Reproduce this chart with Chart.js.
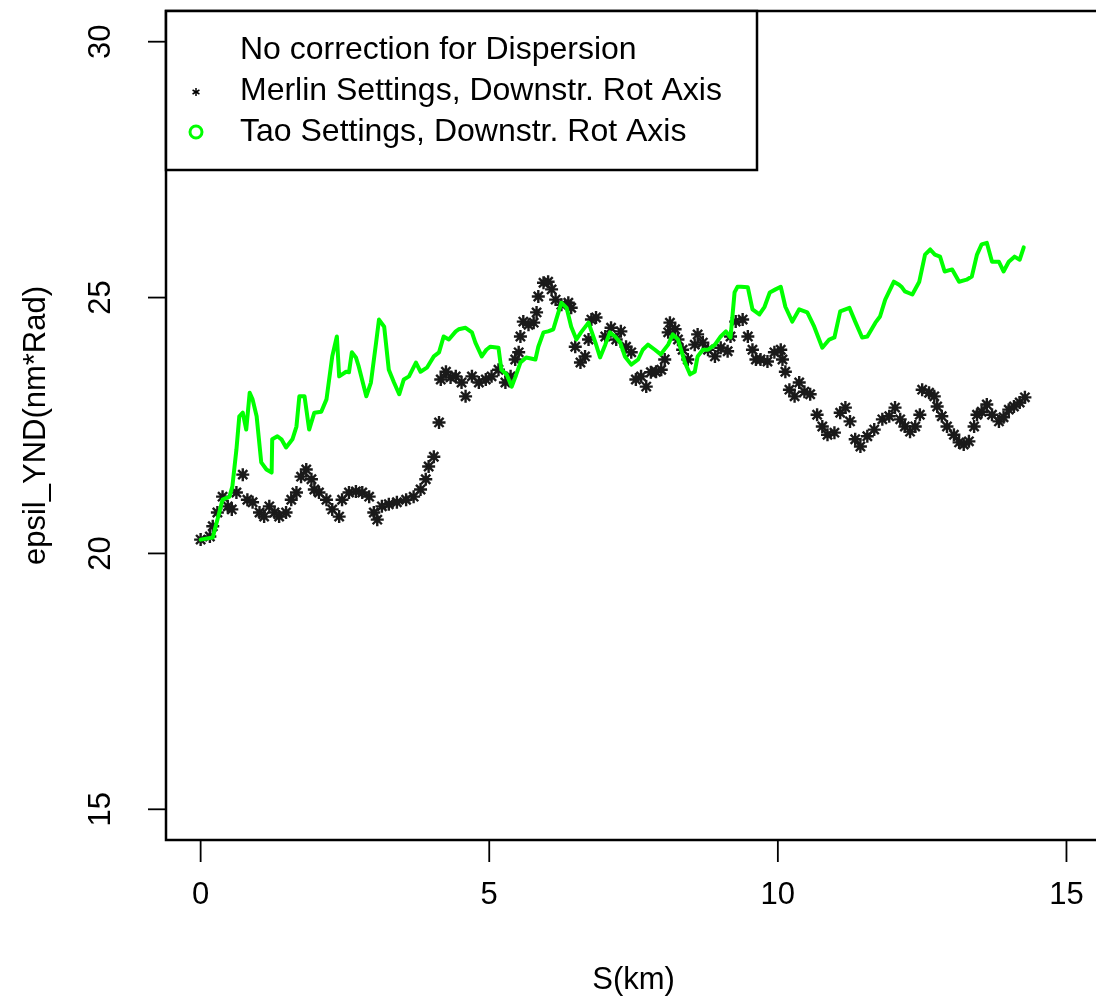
<!DOCTYPE html>
<html lang="en">
<head>
    <meta charset="UTF-8">
    <title>epsil_YND vs S</title>
    <script src="https://cdn.jsdelivr.net/npm/chart.js"></script>
    <style>
        body {
            margin: 0;
            overflow: hidden;
            background: #fff;
        }
        #wrap {
            width: 1110px;
            height: 997px;
        }
    </style>
</head>
<body>
    <div id="wrap"><canvas id="plot" width="1110" height="997"></canvas></div>

    <script>
        // Tao settings (green line)
        const taoS = [0.0, 0.21, 0.38, 0.50, 0.55, 0.62, 0.67, 0.73, 0.79, 0.85, 0.90, 0.97, 1.05, 1.14, 1.23, 1.24, 1.33, 1.40, 1.48, 1.59,
            1.66, 1.71, 1.80, 1.88, 1.97, 2.09, 2.18, 2.28, 2.36, 2.40, 2.52, 2.57, 2.62, 2.69, 2.74, 2.87, 2.95, 3.04, 3.09, 3.18,
            3.26, 3.35, 3.44, 3.52, 3.61, 3.73, 3.81, 3.92, 4.04, 4.13, 4.21, 4.30, 4.42, 4.47, 4.59, 4.70, 4.76, 4.87, 4.95, 5.02,
            5.16, 5.21, 5.30, 5.39, 5.45, 5.54, 5.64, 5.80, 5.85, 5.94, 6.02, 6.11, 6.16, 6.25, 6.34, 6.42, 6.51, 6.59, 6.72, 6.84,
            6.92, 7.01, 7.09, 7.18, 7.27, 7.35, 7.46, 7.58, 7.66, 7.75, 7.87, 7.97, 8.10, 8.18, 8.27, 8.39, 8.48, 8.56, 8.61, 8.70,
            8.79, 8.91, 9.01, 9.10, 9.18, 9.25, 9.30, 9.36, 9.48, 9.56, 9.68, 9.77, 9.86, 9.96, 10.05, 10.13, 10.25, 10.37, 10.51, 10.63,
            10.77, 10.89, 10.98, 11.08, 11.24, 11.34, 11.46, 11.55, 11.69, 11.77, 11.86, 12.01, 12.10, 12.15, 12.20, 12.33, 12.45, 12.55, 12.64, 12.72,
            12.81, 12.89, 13.02, 13.14, 13.27, 13.36, 13.45, 13.53, 13.62, 13.71, 13.83, 13.91, 14.00, 14.10, 14.19, 14.26];
        const taoEps = [20.27, 20.31, 21.05, 21.11, 21.31, 22.03, 22.68, 22.75, 22.42, 23.14, 23.01, 22.68, 21.78, 21.64, 21.58, 22.23, 22.29, 22.23, 22.07, 22.23,
            22.48, 23.07, 23.07, 22.42, 22.75, 22.77, 23.01, 23.85, 24.24, 23.46, 23.55, 23.54, 23.93, 23.83, 23.65, 23.07, 23.34, 24.12, 24.57, 24.43,
            23.59, 23.34, 23.11, 23.40, 23.46, 23.73, 23.55, 23.63, 23.85, 23.93, 24.24, 24.18, 24.34, 24.38, 24.41, 24.32, 24.12, 23.85, 23.98, 24.04,
            24.02, 23.59, 23.50, 23.26, 23.44, 23.73, 23.83, 23.79, 24.04, 24.32, 24.34, 24.38, 24.57, 24.90, 24.80, 24.43, 24.18, 24.32, 24.51, 24.12,
            23.83, 24.08, 24.32, 24.24, 24.12, 23.85, 23.69, 23.79, 23.98, 24.08, 23.98, 23.89, 24.08, 24.28, 24.18, 23.73, 23.50, 23.55, 23.85, 23.98,
            23.98, 24.08, 24.24, 24.34, 24.22, 25.10, 25.21, 25.21, 25.20, 24.77, 24.67, 24.82, 25.10, 25.16, 25.21, 24.82, 24.53, 24.77, 24.71, 24.43,
            24.02, 24.18, 24.22, 24.73, 24.80, 24.53, 24.22, 24.24, 24.51, 24.63, 24.96, 25.31, 25.25, 25.20, 25.12, 25.06, 25.31, 25.84, 25.94, 25.84,
            25.80, 25.51, 25.55, 25.31, 25.35, 25.41, 25.84, 26.04, 26.07, 25.70, 25.70, 25.51, 25.70, 25.80, 25.74, 25.98];

        // Merlin settings (black stars)
        const merlinS = [0.0, 0.16, 0.21, 0.29, 0.38, 0.47, 0.54, 0.62, 0.73, 0.81, 0.90, 1.02, 1.10, 1.19, 1.28, 1.36, 1.48, 1.57, 1.66, 1.74,
            1.83, 1.92, 1.97, 2.05, 2.18, 2.28, 2.40, 2.45, 2.57, 2.69, 2.80, 2.92, 3.00, 3.06, 3.14, 3.26, 3.40, 3.56, 3.69, 3.81,
            3.90, 3.95, 4.04, 4.13, 4.16, 4.25, 4.33, 4.42, 4.52, 4.59, 4.70, 4.82, 4.94, 5.04, 5.16, 5.28, 5.37, 5.45, 5.51, 5.54,
            5.59, 5.68, 5.77, 5.82, 5.85, 5.94, 6.02, 6.08, 6.15, 6.25, 6.37, 6.42, 6.49, 6.58, 6.66, 6.72, 6.77, 6.85, 7.01, 7.11,
            7.20, 7.28, 7.37, 7.46, 7.54, 7.63, 7.72, 7.80, 7.89, 7.98, 8.04, 8.10, 8.13, 8.22, 8.27, 8.35, 8.44, 8.56, 8.61, 8.70,
            8.79, 8.91, 9.01, 9.13, 9.18, 9.27, 9.39, 9.48, 9.56, 9.62, 9.70, 9.82, 9.94, 10.05, 10.08, 10.13, 10.20, 10.29, 10.37, 10.46,
            10.56, 10.68, 10.77, 10.86, 10.98, 11.08, 11.17, 11.25, 11.34, 11.43, 11.55, 11.67, 11.81, 11.93, 12.03, 12.12, 12.20, 12.29, 12.38, 12.46,
            12.50, 12.62, 12.71, 12.76, 12.84, 12.93, 13.05, 13.14, 13.22, 13.31, 13.40, 13.45, 13.53, 13.62, 13.71, 13.83, 13.91, 14.00, 14.09, 14.19, 14.28];
        const merlinEps = [20.27, 20.33, 20.53, 20.80, 21.11, 20.92, 20.86, 21.19, 21.54, 21.05, 21.00, 20.80, 20.72, 20.92, 20.80, 20.72, 20.80, 21.05, 21.19, 21.50,
            21.64, 21.45, 21.25, 21.19, 21.05, 20.86, 20.72, 21.05, 21.19, 21.21, 21.19, 21.11, 20.80, 20.66, 20.92, 20.96, 21.00, 21.05, 21.11, 21.25,
            21.45, 21.70, 21.89, 22.56, 23.40, 23.55, 23.44, 23.46, 23.34, 23.07, 23.46, 23.34, 23.40, 23.46, 23.59, 23.34, 23.46, 23.79, 23.93, 24.24,
            24.53, 24.47, 24.51, 24.71, 25.02, 25.29, 25.31, 25.16, 24.96, 24.86, 24.90, 24.80, 24.04, 23.73, 23.85, 24.18, 24.57, 24.61, 24.24, 24.41,
            24.18, 24.34, 24.04, 23.93, 23.40, 23.46, 23.26, 23.54, 23.55, 23.59, 23.79, 24.32, 24.51, 24.38, 24.18, 23.98, 23.79, 24.08, 24.28, 24.12,
            23.98, 23.85, 24.02, 23.95, 24.24, 24.53, 24.57, 24.24, 23.98, 23.79, 23.79, 23.75, 23.93, 23.98, 23.79, 23.55, 23.20, 23.07, 23.34, 23.16,
            23.11, 22.71, 22.48, 22.32, 22.36, 22.75, 22.85, 22.58, 22.23, 22.09, 22.29, 22.42, 22.62, 22.68, 22.85, 22.62, 22.48, 22.38, 22.48, 22.71,
            23.20, 23.14, 23.07, 22.87, 22.68, 22.48, 22.32, 22.17, 22.13, 22.19, 22.48, 22.71, 22.77, 22.91, 22.71, 22.58, 22.66, 22.81, 22.87, 22.95, 23.05];

        const xTicks = [0, 5, 10, 15];
        const yTicks = [15, 20, 25, 30];
        const xTitle = 'S(km)';
        const yTitle = 'epsil_YND(nm*Rad)';
        const legendTitle = 'No correction for Dispersion';
        const merlinLabel = 'Merlin Settings, Downstr. Rot Axis';
        const taoLabel = 'Tao Settings, Downstr. Rot Axis';

        const GREEN = '#00ff00';
        const FONT = '31px "Liberation Sans", Arial, sans-serif';
        const LEGEND_FONT = '32px "Liberation Sans", Arial, sans-serif';

        function toPoints(xs, ys) {
            return xs.map((x, i) => ({ x: x, y: ys[i] }));
        }

        // R-style frame: box, outside ticks, rotated y labels, legend
        const rFrame = {
            id: 'rFrame',
            afterDraw(chart) {
                const ctx = chart.ctx;
                const a = chart.chartArea;
                const xs = chart.scales.x;
                const ys = chart.scales.y;

                ctx.save();
                ctx.strokeStyle = '#000';
                ctx.fillStyle = '#000';

                // plot box
                ctx.lineWidth = 2.5;
                ctx.strokeRect(a.left, a.top, a.right - a.left, a.bottom - a.top);

                // x ticks + labels
                ctx.lineWidth = 1.8;
                ctx.font = FONT;
                ctx.textAlign = 'center';
                ctx.textBaseline = 'middle';
                xTicks.forEach(v => {
                    const px = xs.getPixelForValue(v);
                    ctx.beginPath();
                    ctx.moveTo(px, a.bottom);
                    ctx.lineTo(px, a.bottom + 22);
                    ctx.stroke();
                    ctx.fillText(String(v), px, 895);
                });

                // y ticks + rotated labels
                yTicks.forEach(v => {
                    const py = ys.getPixelForValue(v);
                    ctx.beginPath();
                    ctx.moveTo(a.left, py);
                    ctx.lineTo(a.left - 18, py);
                    ctx.stroke();
                    ctx.save();
                    ctx.translate(101, py);
                    ctx.rotate(-Math.PI / 2);
                    ctx.fillText(String(v), 0, 0);
                    ctx.restore();
                });

                // axis titles
                ctx.fillText(xTitle, (a.left + a.right) / 2, 980);
                ctx.save();
                ctx.translate(36, (a.top + a.bottom) / 2);
                ctx.rotate(-Math.PI / 2);
                ctx.fillText(yTitle, 0, 0);
                ctx.restore();

                // legend
                const lx = a.left, ly = a.top, lw = 591, lh = 159;
                ctx.fillStyle = '#fff';
                ctx.fillRect(lx, ly, lw, lh);
                ctx.lineWidth = 2.5;
                ctx.strokeRect(lx, ly, lw, lh);
                ctx.fillStyle = '#000';
                ctx.textAlign = 'left';
                ctx.font = LEGEND_FONT;
                ctx.fillText(legendTitle, 240, 50);
                ctx.fillText(merlinLabel, 240, 91);
                ctx.fillText(taoLabel, 240, 132);

                // small asterisk
                ctx.lineWidth = 1.5;
                const sx = 196, sy = 92, r = 4;
                for (let k = 0; k < 3; k++) {
                    const ang = Math.PI / 2 + k * Math.PI / 3;
                    ctx.beginPath();
                    ctx.moveTo(sx - r * Math.cos(ang), sy - r * Math.sin(ang));
                    ctx.lineTo(sx + r * Math.cos(ang), sy + r * Math.sin(ang));
                    ctx.stroke();
                }

                // open green circle
                ctx.strokeStyle = GREEN;
                ctx.lineWidth = 3;
                ctx.beginPath();
                ctx.arc(196, 132, 6, 0, Math.PI * 2);
                ctx.stroke();

                ctx.restore();
            }
        };

        const ctx = document.getElementById('plot').getContext('2d');

        new Chart(ctx, {
            type: 'scatter',
            data: {
                datasets: [
                    {
                        label: taoLabel,
                        data: toPoints(taoS, taoEps),
                        showLine: true,
                        borderColor: GREEN,
                        borderWidth: 4,
                        borderJoinStyle: 'round',
                        borderCapStyle: 'round',
                        pointRadius: 0,
                        tension: 0,
                        order: 0
                    },
                    {
                        label: merlinLabel,
                        data: toPoints(merlinS, merlinEps),
                        showLine: false,
                        pointStyle: 'star',
                        pointRadius: 6.5,
                        borderColor: '#1a1a1a',
                        backgroundColor: '#1a1a1a',
                        borderWidth: 2.4,
                        order: 1
                    }
                ]
            },
            options: {
                responsive: false,
                animation: false,
                events: [],
                layout: { padding: { left: 166, top: 11, right: 6, bottom: 157 } },
                plugins: {
                    legend: { display: false },
                    tooltip: { enabled: false }
                },
                scales: {
                    x: { type: 'linear', min: -0.6, max: 15.6, display: false },
                    y: { type: 'linear', min: 14.4, max: 30.6, display: false }
                }
            },
            plugins: [rFrame]
        });
    </script>
</body>
</html>
